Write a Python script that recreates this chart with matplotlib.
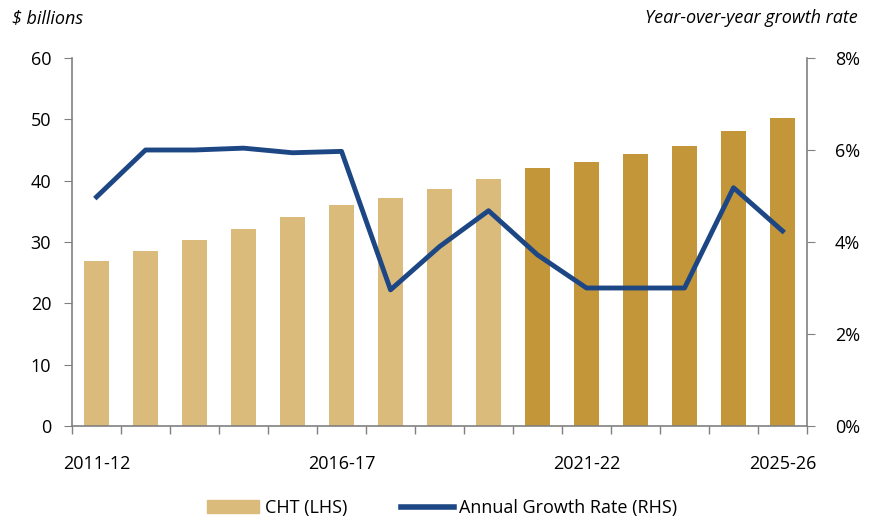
import matplotlib.pyplot as plt
from matplotlib.patches import Patch
from matplotlib.lines import Line2D

plt.rcParams['font.family'] = ['Open Sans', 'DejaVu Sans']

years = ['2011-12', '2012-13', '2013-14', '2014-15', '2015-16', '2016-17',
         '2017-18', '2018-19', '2019-20', '2020-21', '2021-22', '2022-23',
         '2023-24', '2024-25', '2025-26']
cht = [26.9, 28.5, 30.3, 32.1, 34.0, 36.0, 37.1, 38.6, 40.3,
       42.0, 43.1, 44.4, 45.7, 48.1, 50.2]
growth = [4.98, 6.0, 6.0, 6.04, 5.94, 5.97, 2.96, 3.9, 4.68,
          3.72, 3.0, 3.0, 3.0, 5.18, 4.24]
shown_labels = ['2011-12', '2016-17', '2021-22', '2025-26']
n_actual = 9

light = '#DBBB7B'
dark = '#C4963A'
navy = '#1D4784'
grey = '#808080'

fig = plt.figure(figsize=(8.7, 5.22), dpi=100)
ax = fig.add_axes([0.0828, 0.1839, 0.8448, 0.705])
ax2 = ax.twinx()

x = list(range(len(years)))
colors = [light if i < n_actual else dark for i in x]
ax.bar(x, cht, width=0.5, color=colors, zorder=2)
ax2.plot(x, growth, color=navy, linewidth=3.5, solid_joinstyle='round', zorder=3)

ax.set_xlim(-0.5, len(years) - 0.5)
ax.set_ylim(0, 60)
ax.set_yticks(range(0, 61, 10))
ax2.set_ylim(0, 8)
ax2.set_yticks(range(0, 9, 2))
ax2.set_yticklabels([f'{v}%' for v in range(0, 9, 2)])

# tick labels at selected years, tick marks between categories
ax.set_xticks([years.index(s) for s in shown_labels])
ax.set_xticklabels(shown_labels)
ax.set_xticks([i - 0.5 for i in range(len(years) + 1)], minor=True)
ax.tick_params(axis='x', which='major', length=0, pad=21, labelsize=13)
ax.tick_params(axis='x', which='minor', length=6, color=grey, width=1)
ax.tick_params(axis='y', length=6, color=grey, labelsize=13, pad=9)
ax2.tick_params(axis='y', length=6, color=grey, labelsize=13, pad=14)

for a in (ax, ax2):
    a.spines['top'].set_visible(False)
    for s in ('left', 'right', 'bottom'):
        a.spines[s].set_color(grey)
        a.spines[s].set_linewidth(1.2)
ax.spines['right'].set_visible(False)
ax2.spines['left'].set_visible(False)
ax2.spines['bottom'].set_visible(False)

fig.text(0.014, 0.965, r'\$ billions', fontsize=13, style='italic', va='center')
fig.text(0.986, 0.965, 'Year-over-year growth rate', fontsize=13,
         style='italic', va='center', ha='right')

handles = [Patch(color=light, label='CHT (LHS)'),
           Line2D([0], [0], color=navy, linewidth=4, label='Annual Growth Rate (RHS)')]
fig.legend(handles=handles, loc='center', bbox_to_anchor=(0.508, 0.027), ncol=2,
           frameon=False, fontsize=13, handlelength=2.9, columnspacing=3.0,
           handletextpad=0.3)

fig.savefig('out.png', dpi=100)
